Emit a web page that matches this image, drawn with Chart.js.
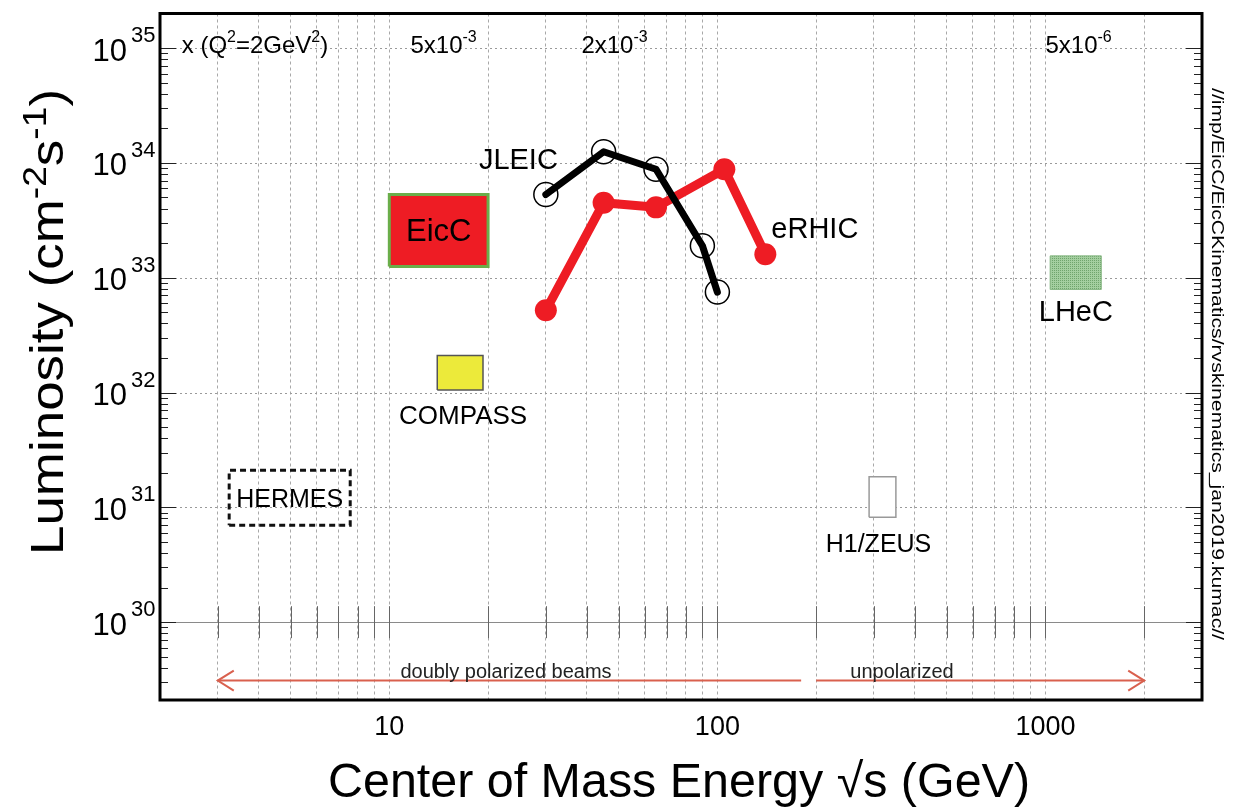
<!DOCTYPE html>
<html><head><meta charset="utf-8">
<script src="https://cdn.jsdelivr.net/npm/chart.js@4.4.1/dist/chart.umd.min.js"></script>
<style>html,body{margin:0;padding:0;background:#fff;} canvas{display:block;}</style>
</head><body>
<canvas id="c" width="1234" height="810"></canvas>
<script>
// ---------- data ----------
const xGridValues = [2,3,4,5,6,7,8,9,10,20,30,40,50,60,70,80,90,100,200,300,400,500,600,700,800,900,1000,2000,3000];
const xLabelValues = [10,100,1000];
const xLabels = ['10','100','1000'];
const yDecadeExps = [30,31,32,33,34,35];
const yLabelBase = '10';

const jleicEnergy = [30,45,65,90,100];
const jleicLumi   = [5.3e33,1.25e34,8.8e33,1.9e33,7.5e32];
const erhicEnergy = [30,45,65,105,140];
const erhicLumi   = [5.2e32,4.5e33,4.1e33,8.8e33,1.6e33];

// boxes: [Emin, Emax, Lmin, Lmax]
const eiccBox    = [10,20,1.25e33,5.3e33];
const compassBox = [14,19.3,1.05e32,2.1e32];
const hermesBox  = [3.25,7.6,7.0e30,2.1e31];
const h1zeusBox  = [290,350,8.2e30,1.85e31];
const lhecBox    = [1035,1480,7.9e32,1.55e33];

const arrowPolarized   = [3,180];
const arrowUnpolarized = [200,2000];
const arrowLumi = 3.1e29;

const topLabels = ['x (Q|2|=2GeV|2|)','5x10|-3|','2x10|-3|','5x10|-6|'];
const topLabelEnergy = [2.33,11.6,38.5,1000];
const topLabelLumi = 1e35;
const pathText = '//imp/EicC/EicCKinematics/rvskinematics_jan2019.kumac//';

// ---------- helpers ----------
const FONT = '"Liberation Sans", Arial, Helvetica, sans-serif';
function rectPts(b){ return [{x:b[0],y:b[2]},{x:b[1],y:b[2]},{x:b[1],y:b[3]},{x:b[0],y:b[3]},{x:b[0],y:b[2]}]; }
function zipPts(xs,ys){ return xs.map((x,i)=>({x:x,y:ys[i]})); }

function makeLhecPattern(){
  const p = document.createElement('canvas'); p.width=4; p.height=4;
  const g = p.getContext('2d');
  g.fillStyle='#a4cfa0'; g.fillRect(0,0,4,4);
  g.fillStyle='#6fa46c'; g.fillRect(0,0,1,1); g.fillRect(2,2,1,1); g.fillRect(2,0,1,1); g.fillRect(0,2,1,1);
  return g.createPattern(p,'repeat');
}
const lhecFill = makeLhecPattern();

// text with |sup| segments
function drawRich(ctx, text, x, y, size, supSize, align, supRise, noDraw){
  const parts = text.split('|');
  let total = 0;
  const segs = parts.map((t,i)=>{ const sup = i%2===1; ctx.font = (sup?supSize:size)+'px '+FONT; const w=ctx.measureText(t).width; total+=w; return {t,sup,w}; });
  if(noDraw) return total;
  let cx = align==='center' ? x-total/2 : (align==='right' ? x-total : x);
  ctx.textAlign='left'; ctx.textBaseline='alphabetic';
  segs.forEach(s=>{ ctx.font=(s.sup?supSize:size)+'px '+FONT; ctx.fillText(s.t, cx, s.sup? y-supRise : y); cx+=s.w; });
  return total;
}

const decorPlugin = {
  id:'decor',
  beforeDatasetsDraw(chart){
    const {ctx, chartArea:a, scales:{x,y}} = chart;
    ctx.save();
    yDecadeExps.forEach(e=>{
      const py = Math.round(y.getPixelForValue(Math.pow(10,e)))+0.5;
      ctx.beginPath();
      if(e===30){ ctx.setLineDash([]); ctx.strokeStyle='#8a8a8a'; ctx.lineWidth=1.2; }
      else { ctx.setLineDash([2,3]); ctx.strokeStyle='#9a9a9a'; ctx.lineWidth=1; }
      ctx.moveTo(a.left,py); ctx.lineTo(a.right,py); ctx.stroke();
    });
    ctx.setLineDash([]);
    const p30 = y.getPixelForValue(1e30);
    ctx.strokeStyle='#666'; ctx.lineWidth=1;
    xGridValues.forEach(v=>{
      const px = Math.round(x.getPixelForValue(v))+0.5;
      if(px<=a.left+2||px>=a.right-2) return;
      ctx.beginPath(); ctx.moveTo(px,p30-16); ctx.lineTo(px,p30+16); ctx.stroke();
    });
    ctx.restore();
  },
  afterDraw(chart){
    const {ctx, chartArea:a, scales:{x,y}} = chart;
    ctx.save();
    ctx.strokeStyle='#222'; ctx.lineWidth=1;
    for(let e=29;e<=35;e++){
      for(let m=1;m<=9;m++){
        const v=m*Math.pow(10,e);
        if(v<y.min||v>y.max) continue;
        const py=Math.round(y.getPixelForValue(v))+0.5;
        const len = m===1?16:8;
        ctx.beginPath(); ctx.moveTo(a.left,py); ctx.lineTo(a.left+len,py); ctx.stroke();
        ctx.beginPath(); ctx.moveTo(a.right,py); ctx.lineTo(a.right-len,py); ctx.stroke();
      }
    }
    ctx.strokeStyle='#000'; ctx.lineWidth=3;
    ctx.strokeRect(a.left,a.top,a.right-a.left,a.bottom-a.top);

    ctx.fillStyle='#000';
    yDecadeExps.forEach(e=>{
      const py = y.getPixelForValue(Math.pow(10,e));
      ctx.font='31px '+FONT; ctx.textAlign='right'; ctx.textBaseline='middle';
      ctx.fillText(yLabelBase, a.left-33, py+4);
      ctx.font='22px '+FONT; ctx.textAlign='left';
      ctx.fillText(String(e), a.left-29, py-12);
    });
    ctx.font='27px '+FONT; ctx.textAlign='center'; ctx.textBaseline='middle';
    xLabelValues.forEach((v,i)=>{ ctx.fillText(xLabels[i], x.getPixelForValue(v), a.bottom+28); });

    const tx = 'Center of Mass Energy \u221As (GeV)';
    ctx.font='48px '+FONT;
    let w = ctx.measureText(tx).width;
    ctx.save(); ctx.translate(679,797); ctx.scale(702/w,1); ctx.textAlign='center'; ctx.textBaseline='alphabetic'; ctx.fillText(tx,0,0); ctx.restore();

    ctx.save(); ctx.translate(63,322); ctx.rotate(-Math.PI/2);
    const yt='Luminosity (cm|-2|s|-1|)';
    const tw = drawRich(ctx,yt,0,0,47,33,'left',17,true);
    ctx.scale(466/tw,1);
    drawRich(ctx,yt,0,0,47,33,'center',17);
    ctx.restore();

    ctx.save(); ctx.translate(1217,88); ctx.rotate(Math.PI/2);
    ctx.font='17px '+FONT; w=ctx.measureText(pathText).width;
    ctx.scale(552/w,1); ctx.textAlign='left'; ctx.textBaseline='middle'; ctx.fillText(pathText,0,0);
    ctx.restore();

    const ty = y.getPixelForValue(topLabelLumi)+5;
    topLabels.forEach((t,i)=>{ drawRich(ctx,t,x.getPixelForValue(topLabelEnergy[i]),ty,24,16,'left',11); });

    const cxOf=b=>(x.getPixelForValue(b[0])+x.getPixelForValue(b[1]))/2;
    const cyOf=b=>(y.getPixelForValue(b[2])+y.getPixelForValue(b[3]))/2;
    ctx.textAlign='center'; ctx.textBaseline='middle';
    ctx.font='31px '+FONT; ctx.fillText('EicC', cxOf(eiccBox), cyOf(eiccBox)+2);
    ctx.font='25px '+FONT; ctx.fillText('HERMES', cxOf(hermesBox), cyOf(hermesBox)+2);
    ctx.font='26px '+FONT; ctx.fillText('COMPASS', cxOf(compassBox)+3, y.getPixelForValue(compassBox[2])+27);
    ctx.font='25px '+FONT; ctx.fillText('H1/ZEUS', cxOf(h1zeusBox)-4, y.getPixelForValue(h1zeusBox[2])+28);
    ctx.font='29px '+FONT; ctx.fillText('LHeC', cxOf(lhecBox), y.getPixelForValue(lhecBox[2])+24);
    ctx.font='29px '+FONT; ctx.textAlign='right';
    ctx.fillText('JLEIC', x.getPixelForValue(jleicEnergy[0])+12, y.getPixelForValue(jleicLumi[0])-34);
    ctx.textAlign='left';
    ctx.fillText('eRHIC', x.getPixelForValue(erhicEnergy[4])+6, y.getPixelForValue(erhicLumi[4])-24);

    const ay = y.getPixelForValue(arrowLumi);
    ctx.strokeStyle='#d9604e'; ctx.lineWidth=2;
    let hx = x.getPixelForValue(arrowPolarized[0]);
    ctx.beginPath(); ctx.moveTo(hx+16,ay-10); ctx.lineTo(hx,ay); ctx.lineTo(hx+16,ay+10); ctx.stroke();
    hx = x.getPixelForValue(arrowUnpolarized[1]);
    ctx.beginPath(); ctx.moveTo(hx-16,ay-10); ctx.lineTo(hx,ay); ctx.lineTo(hx-16,ay+10); ctx.stroke();
    ctx.fillStyle='#222'; ctx.font='20px '+FONT; ctx.textAlign='center'; ctx.textBaseline='alphabetic';
    ctx.fillText('doubly polarized beams', 506, ay-3);
    ctx.fillText('unpolarized', 902, ay-3);
    ctx.restore();
  }
};

const boxDs = (label,b,fill,border,bw,dash)=>({type:'line',label,data:rectPts(b),showLine:true,fill:fill?'shape':false,backgroundColor:fill||'transparent',borderColor:border,borderWidth:bw,borderDash:dash||[],pointRadius:0,tension:0,borderJoinStyle:'miter'});

new Chart(document.getElementById('c'),{
  type:'scatter',
  data:{datasets:[
    {type:'line',label:'JLEIC',data:zipPts(jleicEnergy,jleicLumi),showLine:true,borderColor:'#000',borderWidth:7,borderJoinStyle:'round',borderCapStyle:'round',pointRadius:12,pointBorderWidth:1.5,pointBorderColor:'#000',pointBackgroundColor:'rgba(0,0,0,0)',fill:false,tension:0},
    {type:'line',label:'eRHIC',data:zipPts(erhicEnergy,erhicLumi),showLine:true,borderColor:'#ee1c24',borderWidth:9,borderJoinStyle:'round',borderCapStyle:'round',pointRadius:11,pointBorderWidth:0,pointBackgroundColor:'#ee1c24',fill:false,tension:0},
    boxDs('EicC',eiccBox,'#ee1c24','#6aae4a',3),
    boxDs('COMPASS',compassBox,'#ecea3a','#555',1.5),
    boxDs('HERMES',hermesBox,null,'#111',3,[6,4]),
    boxDs('H1/ZEUS',h1zeusBox,'#ffffff','#999',1.5),
    boxDs('LHeC',lhecBox,lhecFill,'#8cba88',1),
    {type:'line',label:'pol',data:[{x:arrowPolarized[0],y:arrowLumi},{x:arrowPolarized[1],y:arrowLumi}],showLine:true,borderColor:'#d9604e',borderWidth:2,pointRadius:0,fill:false},
    {type:'line',label:'unpol',data:[{x:arrowUnpolarized[0],y:arrowLumi},{x:arrowUnpolarized[1],y:arrowLumi}],showLine:true,borderColor:'#d9604e',borderWidth:2,pointRadius:0,fill:false}
  ]},
  options:{
    responsive:false, animation:false, devicePixelRatio:1,
    layout:{padding:{left:160,right:32,top:10,bottom:110}},
    plugins:{legend:{display:false},tooltip:{enabled:false}},
    scales:{
      x:{type:'logarithmic',min:2,max:3000,
        afterBuildTicks:(s)=>{ s.ticks = xGridValues.map(v=>({value:v})); },
        ticks:{display:false},
        grid:{display:true,color:'#a8a8a8',lineWidth:1,drawTicks:false},
        border:{display:false,dash:[3,3]}},
      y:{type:'logarithmic',min:2.1e29,max:2e35,
        ticks:{display:false},
        grid:{display:false,drawTicks:false},
        border:{display:false}}
    }
  },
  plugins:[decorPlugin]
});
</script>
</body></html>
